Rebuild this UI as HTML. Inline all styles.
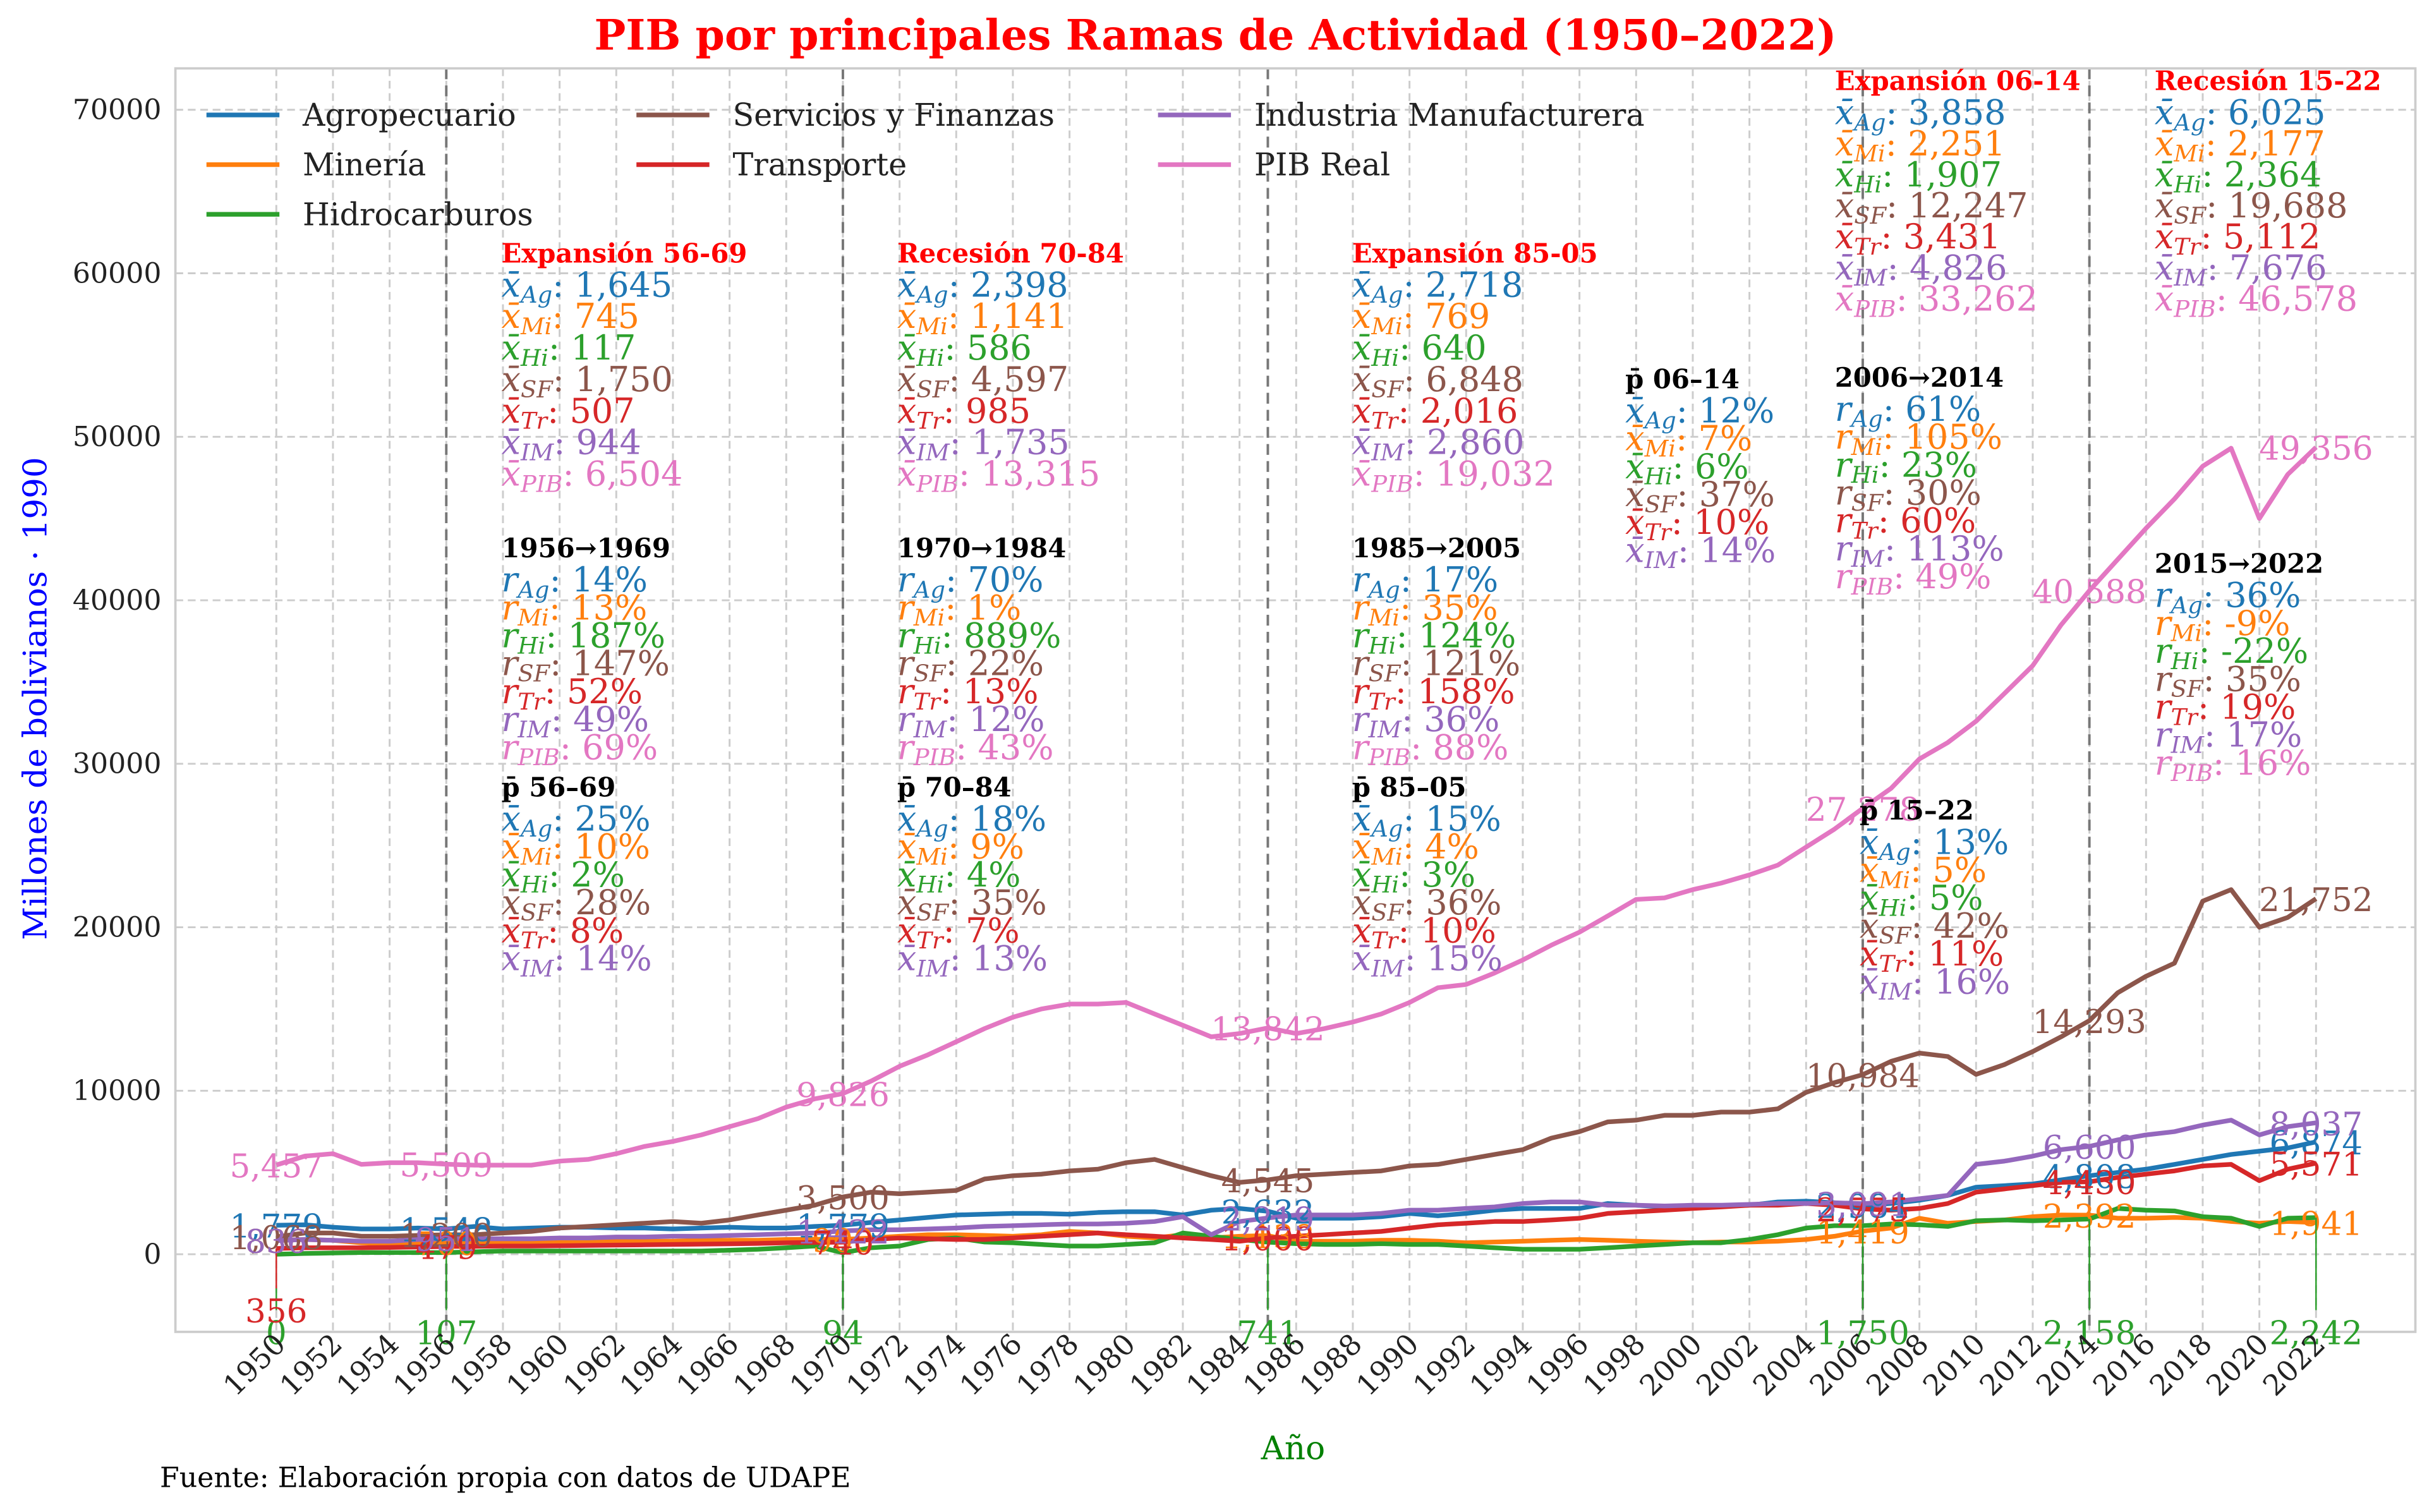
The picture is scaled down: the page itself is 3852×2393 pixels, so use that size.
<!DOCTYPE html>
<html><head><meta charset="utf-8">
<style>
html,body{margin:0;padding:0;background:#fff;}
svg{display:block;font-family:"DejaVu Serif","Liberation Serif",serif;}
</style></head>
<body>
<svg id="chart" width="3852" height="2393" viewBox="0 0 1568 974" xmlns="http://www.w3.org/2000/svg">
<rect x="0" y="0" width="1568" height="974" fill="#fff"/>
<g id="grid"></g>
<g id="periods"></g>
<rect x="113" y="44" width="1443" height="814" fill="none" stroke="#cccccc" stroke-width="1.5"/>
<g id="series"></g>
<g id="labels"></g>
<g id="axes"></g>
<g id="notes"></g>
<text x="783" y="32" text-anchor="middle" font-size="27" font-weight="bold" fill="#ff0000">PIB por principales Ramas de Actividad (1950–2022)</text>
<text transform="translate(30,450) rotate(-90)" text-anchor="middle" font-size="21" fill="#0000ff">Millones de bolivianos · 1990</text>
<text x="833" y="940" text-anchor="middle" font-size="21" fill="#008000">Año</text>
<text x="103" y="958" font-size="18" fill="#000">Fuente: Elaboración propia con datos de UDAPE</text>
<g id="legend"></g>
</svg>
<script>
const years = [];
for (let yr = 1950; yr <= 2022; yr++) years.push(yr);
const agro = [1779,1800,1650,1550,1550,1600,1548,1700,1550,1600, 1650,1650,1600,1600,1550,1600,1650,1600,1600,1700, 1779,1950,2100,2250,2400,2450,2500,2500,2450,2550, 2600,2600,2400,2700,2800,2632,2200,2200,2200,2300, 2500,2350,2500,2700,2800,2800,2800,3100,3000,2900, 2900,2950,3000,3200,3250,3150,2984,3100,3300,3600, 4100,4200,4300,4550,4808,5000,5200,5500,5800,6100, 6300,6500,6874];
const mine = [836,900,850,700,650,700,700,750,750,750, 750,750,800,800,800,850,850,850,900,917, 900,1000,1100,1200,1200,1150,1100,1200,1400,1300, 1100,1000,1200,1000,1100,1138,800,800,800,850, 850,800,700,750,800,850,900,850,800,750, 700,750,750,800,900,1100,1419,1600,2200,1900, 2000,2100,2300,2400,2392,2200,2200,2250,2200,2000, 1900,2000,1941];
const hidro = [0,50,80,100,100,107,107,150,200,200, 200,200,200,200,200,200,250,300,400,500, 94,400,500,900,1000,750,700,600,500,500, 600,700,1300,1100,900,741,650,600,600,650, 600,600,500,400,300,300,300,400,500,600, 700,700,900,1200,1600,1750,1750,1850,1800,1700, 2050,2100,2050,2100,2158,2800,2700,2650,2300,2200, 1700,2200,2242];
const serv = [1068,1300,1300,1100,1100,1150,1200,1200,1300,1400, 1600,1700,1800,1900,2000,1900,2100,2400,2700,3000, 3500,3800,3700,3800,3900,4600,4800,4900,5100,5200, 5600,5800,5300,4800,4400,4545,4800,4900,5000,5100, 5400,5500,5800,6100,6400,7100,7500,8100,8200,8500, 8500,8700,8700,8900,9900,10500,10984,11800,12300,12100, 11000,11600,12400,13300,14293,16000,17000,17800,21600,22300, 20000,20600,21752];
const trans = [356,400,400,400,420,450,479,480,500,500, 520,540,560,580,600,620,640,660,700,720, 740,900,1000,950,900,900,1000,1100,1200,1300, 1200,1100,1000,900,800,1000,1100,1200,1300,1400, 1600,1800,1900,2000,2000,2100,2200,2500,2600,2700, 2800,2900,3000,3000,3100,3000,2775,2700,2800,3100, 3800,4000,4200,4400,4430,4700,4900,5100,5400,5500, 4500,5200,5571];
const indus = [836,900,850,800,800,900,951,950,950,950, 1000,1000,1050,1050,1100,1100,1150,1200,1250,1300, 1422,1500,1500,1550,1600,1700,1750,1800,1850,1850, 1900,2000,2300,1200,2000,2219,2400,2400,2400,2500, 2700,2700,2800,2900,3100,3200,3200,3000,3000,2950, 3000,3000,3050,3100,3100,3150,3091,3200,3400,3600, 5500,5700,6000,6400,6600,7000,7300,7500,7900,8200, 7300,7800,8037];
const pib = [5457,6000,6150,5500,5600,5600,5509,5450,5450,5450, 5700,5800,6150,6600,6900,7300,7800,8300,9000,9500, 9826,10600,11500,12200,13000,13800,14500,15000,15300,15300, 15400,14700,14000,13300,13500,13842,13500,13800,14200,14700, 15400,16300,16500,17200,18000,18900,19700,20700,21700,21800, 22300,22700,23200,23800,24900,26000,27278,28500,30300,31300, 32600,34300,36000,38500,40588,42500,44400,46200,48200,49300, 45000,47700,49356];
const yTicks = [0,10000,20000,30000,40000,50000,60000,70000];
const periodYears = [1956,1970,1985,2006,2014];
const labelYears = [1950,1956,1970,1985,2006,2014,2022];

const NS = "http://www.w3.org/2000/svg";
function xS(yr){ return 178 + (yr - 1950) * 18.25; }
function yS(v){ return 808 - v * 0.010533; }
function mk(tag, attrs, parent){
  const e = document.createElementNS(NS, tag);
  for (const k in attrs) e.setAttribute(k, attrs[k]);
  parent.appendChild(e);
  return e;
}
const grid = document.getElementById('grid');
const axes = document.getElementById('axes');
const periods = document.getElementById('periods');
const seriesG = document.getElementById('series');
const labelsG = document.getElementById('labels');

yTicks.forEach(v => {
  const l = mk('line', {x1:113, x2:1556, y1:yS(v), y2:yS(v), stroke:'#cccccc', 'stroke-width':1.2, 'stroke-dasharray':'5,3'}, grid);
  
  
  const t = mk('text', {x:104, y:yS(v)+6, 'text-anchor':'end', 'font-size':18, fill:'#222'}, axes);
  t.textContent = String(v);
  
  
});
for (let yr = 1950; yr <= 2022; yr += 2) {
  const l = mk('line', {x1:xS(yr), x2:xS(yr), y1:44, y2:858, stroke:'#cccccc', 'stroke-width':1.2, 'stroke-dasharray':'5,3'}, grid);
  
  
  const t = mk('text', {transform:'translate(' + (xS(yr)+7) + ',867) rotate(-45)', 'text-anchor':'end', 'font-size':18.5, fill:'#222'}, axes);
  t.textContent = String(yr);
  
  
}
periodYears.forEach(yr => {
  const l = mk('line', {x1:xS(yr), x2:xS(yr), y1:44, y2:858, stroke:'#777777', 'stroke-width':1.6, 'stroke-dasharray':'7,4'}, periods);
  
  
});

const seriesList = [
  {name:'agropecuario', data:agro, color:'#1f77b4'},
  {name:'mineria', data:mine, color:'#ff7f0e'},
  {name:'hidrocarburos', data:hidro, color:'#2ca02c'},
  {name:'servicios-finanzas', data:serv, color:'#8c564b'},
  {name:'transporte', data:trans, color:'#d62728'},
  {name:'industria', data:indus, color:'#9467bd'},
  {name:'pib-real', data:pib, color:'#e377c2'}
];
seriesList.forEach(s => {
  const pts = s.data.map((v,i) => xS(years[i]).toFixed(1) + ',' + yS(v).toFixed(1)).join(' ');
  const p = mk('polyline', {points:pts, fill:'none', stroke:s.color, 'stroke-width':3, 'stroke-linejoin':'round'}, seriesG);
  
  
  labelYears.forEach(yr => {
    const v = s.data[yr - 1950];
    const x = xS(yr);
    let ty = yS(v) + 8;
    const stem = (s.name === 'hidrocarburos') || (s.name === 'transporte' && yr === 1950);
    if (stem) {
      ty = s.name === 'hidrocarburos' ? 866 : 852;
      const st = mk('line', {x1:x, x2:x, y1:yS(v), y2:ty-22, stroke:s.color, 'stroke-width':1}, labelsG);
      
      
    }
    const t = mk('text', {x:x, y:ty, 'text-anchor':'middle', 'font-size':21, fill:s.color}, labelsG);
    t.textContent = v.toLocaleString('en-US');
    
    
  });
});

const legendItems = [
  ['Agropecuario','#1f77b4',133,74],['Minería','#ff7f0e',133,106],['Hidrocarburos','#2ca02c',133,138],
  ['Servicios y Finanzas','#8c564b',410,74],['Transporte','#d62728',410,106],
  ['Industria Manufacturera','#9467bd',746,74],['PIB Real','#e377c2',746,106]
];
const legend = document.getElementById('legend');
legendItems.forEach(it => {
  const g = mk('g', {}, legend);
  
  
  mk('line', {x1:it[2], x2:it[2]+47, y1:it[3], y2:it[3], stroke:it[1], 'stroke-width':3}, g);
  const t = mk('text', {x:it[2]+62, y:it[3]+7, 'font-size':20, fill:'#222'}, g);
  t.textContent = it[0];
});

const C = {Ag:'#1f77b4',Mi:'#ff7f0e',Hi:'#2ca02c',SF:'#8c564b',Tr:'#d62728',IM:'#9467bd',PIB:'#e377c2'};
const notes = document.getElementById('notes');
function block(x, y, title, titleColor, sym, rows, step, fs, name){
  const g = mk('g', {}, notes);
  
  
  const h = mk('text', {x:x, y:y, 'font-size':17, 'font-weight':'bold', fill:titleColor}, g);
  h.textContent = title;
  rows.forEach((r,i) => {
    const t = mk('text', {x:x, y:y + 22 + i*step, 'font-size':fs, fill:C[r[0]]}, g);
    const a = document.createElementNS(NS,'tspan'); a.setAttribute('font-style','italic'); a.textContent = sym; t.appendChild(a);
    const b = document.createElementNS(NS,'tspan'); b.setAttribute('font-style','italic'); b.setAttribute('font-size', Math.round(fs*0.7)); b.setAttribute('dy','4'); b.textContent = r[0]; t.appendChild(b);
    const c = document.createElementNS(NS,'tspan'); c.setAttribute('dy','-4'); c.textContent = ': ' + r[1]; t.appendChild(c);
  });
}
const keys7 = ['Ag','Mi','Hi','SF','Tr','IM','PIB'];
const z = (vals) => vals.map((v,i) => [keys7[i], v]);
const xbar = 'x\u0304', rr = 'r';
block(323,169,'Expansión 56-69','#ff0000',xbar,z(['1,645','745','117','1,750','507','944','6,504']),20.3,22,'stats-56-69');
block(323,359,'1956→1969','#000',rr,z(['14%','13%','187%','147%','52%','49%','69%']),18,22,'growth-56-69');
block(323,513,'p\u0304 56–69','#000',xbar,z(['25%','10%','2%','28%','8%','14%']),18,22,'share-56-69');
block(578,169,'Recesión 70-84','#ff0000',xbar,z(['2,398','1,141','586','4,597','985','1,735','13,315']),20.3,22,'stats-70-84');
block(578,359,'1970→1984','#000',rr,z(['70%','1%','889%','22%','13%','12%','43%']),18,22,'growth-70-84');
block(578,513,'p\u0304 70–84','#000',xbar,z(['18%','9%','4%','35%','7%','13%']),18,22,'share-70-84');
block(871,169,'Expansión 85-05','#ff0000',xbar,z(['2,718','769','640','6,848','2,016','2,860','19,032']),20.3,22,'stats-85-05');
block(871,359,'1985→2005','#000',rr,z(['17%','35%','124%','121%','158%','36%','88%']),18,22,'growth-85-05');
block(871,513,'p\u0304 85–05','#000',xbar,z(['15%','4%','3%','36%','10%','15%']),18,22,'share-85-05');
block(1047,250,'p\u0304 06–14','#000',xbar,z(['12%','7%','6%','37%','10%','14%']),18,22,'share-06-14');
block(1182,58,'Expansión 06-14','#ff0000',xbar,z(['3,858','2,251','1,907','12,247','3,431','4,826','33,262']),20,22,'stats-06-14');
block(1182,249,'2006→2014','#000',rr,z(['61%','105%','23%','30%','60%','113%','49%']),18,22,'growth-06-14');
block(1198,528,'p\u0304 15–22','#000',xbar,z(['13%','5%','5%','42%','11%','16%']),18,22,'share-15-22');
block(1388,58,'Recesión 15-22','#ff0000',xbar,z(['6,025','2,177','2,364','19,688','5,112','7,676','46,578']),20,22,'stats-15-22');
block(1388,369,'2015→2022','#000',rr,z(['36%','-9%','-22%','35%','19%','17%','16%']),18,22,'growth-15-22');
</script>
</body></html>
